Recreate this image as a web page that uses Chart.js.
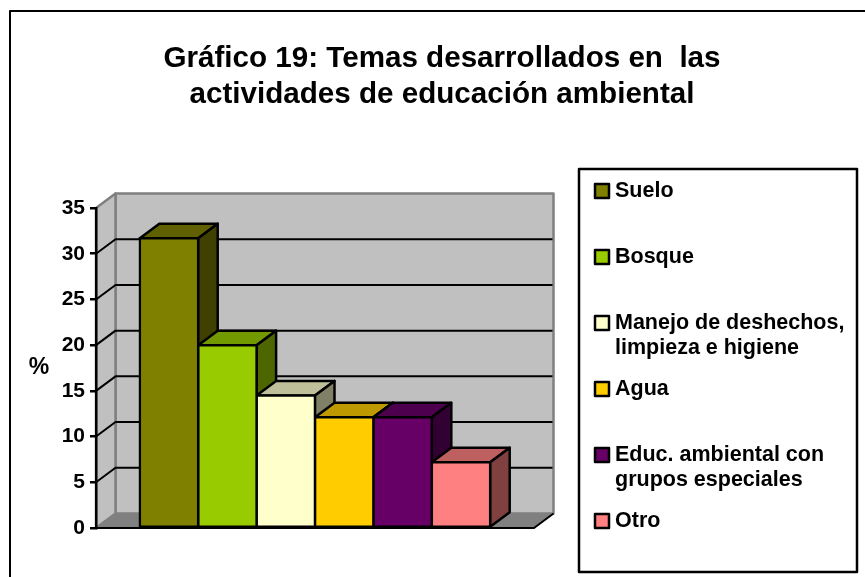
<!DOCTYPE html>
<html lang="es">
<head>
<meta charset="utf-8">
<title>Gráfico 19</title>
<script src="https://cdn.jsdelivr.net/npm/chart.js@4/dist/chart.umd.js"></script>
<style>
html, body { margin: 0; padding: 0; background: #fff; }
canvas { display: block; }
</style>
</head>
<body>
<canvas id="chart" width="865" height="577"></canvas>
<script>
const categories = [''];
const seriesNames = ['Suelo', 'Bosque', 'Manejo de deshechos, limpieza e higiene', 'Agua', 'Educ. ambiental con grupos especiales', 'Otro'];
const seriesValues = [31.7, 20, 14.5, 12.1, 12.1, 7.2];
const seriesColors = ['#808000', '#99cc00', '#ffffcc', '#ffcc00', '#660066', '#ff8080'];
const legendLines = [
    ['Suelo'],
    ['Bosque'],
    ['Manejo de deshechos,', 'limpieza e higiene'],
    ['Agua'],
    ['Educ. ambiental con', 'grupos especiales'],
    ['Otro']
];
const titleLines = ['Gráfico 19: Temas desarrollados en  las', 'actividades de educación ambiental'];
const fontFamily = '"Liberation Sans", Arial, sans-serif';

// profundidad del efecto 3D
const depthX = 19.5;
const depthY = 14.5;

function shade(hex, factor) {
    const n = parseInt(hex.slice(1), 16);
    const r = Math.round((n >> 16) * factor);
    const g = Math.round(((n >> 8) & 255) * factor);
    const b = Math.round((n & 255) * factor);
    return `rgb(${r},${g},${b})`;
}

function polygon(ctx, points, fill, stroke, width) {
    ctx.beginPath();
    points.forEach((p, i) => (i ? ctx.lineTo(p[0], p[1]) : ctx.moveTo(p[0], p[1])));
    ctx.closePath();
    if (fill) {
        ctx.fillStyle = fill;
        ctx.fill();
    }
    if (stroke) {
        ctx.strokeStyle = stroke;
        ctx.lineWidth = width;
        ctx.stroke();
    }
}

const scene3d = {
    id: 'scene3d',
    afterLayout(chart) {
        // el título no está centrado sobre el lienzo
        chart.titleBlock.left = 22;
        chart.titleBlock.right = 862;
    },
    beforeDraw(chart) {
        const ctx = chart.ctx;
        const { left, right, top, bottom } = chart.chartArea;
        const y = chart.scales.y;
        ctx.save();
        ctx.lineJoin = 'round';

        // marco exterior
        ctx.strokeStyle = '#000';
        ctx.lineWidth = 2;
        ctx.beginPath();
        ctx.moveTo(10, 577);
        ctx.lineTo(10, 11);
        ctx.lineTo(865, 11);
        ctx.stroke();

        // paredes y piso
        polygon(ctx, [[left + depthX, top - depthY], [right + depthX, top - depthY], [right + depthX, bottom - depthY], [left + depthX, bottom - depthY]], '#c0c0c0', '#808080', 2.5);
        polygon(ctx, [[left, top], [left + depthX, top - depthY], [left + depthX, bottom - depthY], [left, bottom]], '#c0c0c0', '#808080', 2.5);
        polygon(ctx, [[left, bottom], [left + depthX, bottom - depthY], [right + depthX, bottom - depthY], [right, bottom]], '#808080', '#808080', 1);

        // líneas de división
        ctx.strokeStyle = '#000';
        ctx.lineWidth = 2;
        y.ticks.forEach(t => {
            if (t.value === 0 || t.value === y.max) return;
            const py = y.getPixelForValue(t.value);
            ctx.beginPath();
            ctx.moveTo(left, py);
            ctx.lineTo(left + depthX, py - depthY);
            ctx.lineTo(right + depthX - 1, py - depthY);
            ctx.stroke();
        });
        ctx.beginPath();
        ctx.moveTo(left, bottom);
        ctx.lineTo(right, bottom);
        ctx.lineTo(right + depthX, bottom - depthY);
        ctx.stroke();

        // etiqueta del eje, sin rotar
        ctx.fillStyle = '#000';
        ctx.font = 'bold 23px ' + fontFamily;
        ctx.textAlign = 'center';
        ctx.textBaseline = 'middle';
        ctx.fillText('%', 39, 368);

        // leyenda
        ctx.lineWidth = 2.5;
        ctx.strokeRect(579, 169, 278, 403);
        ctx.font = 'bold 21.5px ' + fontFamily;
        ctx.textAlign = 'left';
        legendLines.forEach((lines, i) => {
            const cy = 191 + i * 66;
            ctx.fillStyle = seriesColors[i];
            ctx.fillRect(595, cy - 7, 14, 14);
            ctx.lineWidth = 2.5;
            ctx.strokeRect(595, cy - 7, 14, 14);
            ctx.fillStyle = '#000';
            lines.forEach((line, j) => ctx.fillText(line, 615, cy + j * 25));
        });
        ctx.restore();
    },
    beforeDatasetsDraw(chart) {
        const ctx = chart.ctx;
        ctx.save();
        ctx.lineJoin = 'round';
        seriesColors.forEach((color, i) => {
            const bar = chart.getDatasetMeta(i).data[0];
            const x0 = bar.x - bar.width / 2;
            const x1 = bar.x + bar.width / 2;
            const yTop = bar.y;
            const yBase = bar.base;
            polygon(ctx, [[x0, yTop], [x0 + depthX, yTop - depthY], [x1 + depthX, yTop - depthY], [x1, yTop]], shade(color, 0.75), '#000', 2.5);
            polygon(ctx, [[x1, yTop], [x1 + depthX, yTop - depthY], [x1 + depthX, yBase - depthY], [x1, yBase]], shade(color, 0.5), '#000', 2.5);
        });
        ctx.restore();
    }
};

new Chart(document.getElementById('chart').getContext('2d'), {
    type: 'bar',
    data: {
        labels: categories,
        datasets: seriesNames.map((name, i) => ({
            label: name,
            data: [seriesValues[i]],
            backgroundColor: seriesColors[i],
            borderColor: '#000',
            borderWidth: 2.5,
            borderSkipped: false,
            inflateAmount: 1.25,
            clip: false
        }))
    },
    options: {
        responsive: false,
        animation: false,
        barPercentage: 1,
        categoryPercentage: 0.8,
        layout: { padding: { left: 0, right: 331, top: 0, bottom: 49 } },
        plugins: {
            legend: { display: false },
            tooltip: { enabled: false },
            title: {
                display: true,
                text: titleLines,
                color: '#000',
                font: { family: fontFamily, size: 29.6, weight: 'bold', lineHeight: 36 / 29.6 },
                padding: { top: 41, bottom: 95 }
            }
        },
        scales: {
            x: { display: false },
            y: {
                min: 0,
                max: 35,
                afterFit(scale) { scale.width = 96; },
                border: { display: true, color: '#000', width: 2.5 },
                grid: { drawOnChartArea: false, drawTicks: true, tickLength: 6, color: '#000', lineWidth: 2.5 },
                ticks: {
                    stepSize: 5,
                    color: '#000',
                    padding: 5,
                    font: { family: fontFamily, size: 21, weight: 'bold' }
                }
            }
        }
    },
    plugins: [scene3d]
});
</script>
</body>
</html>
